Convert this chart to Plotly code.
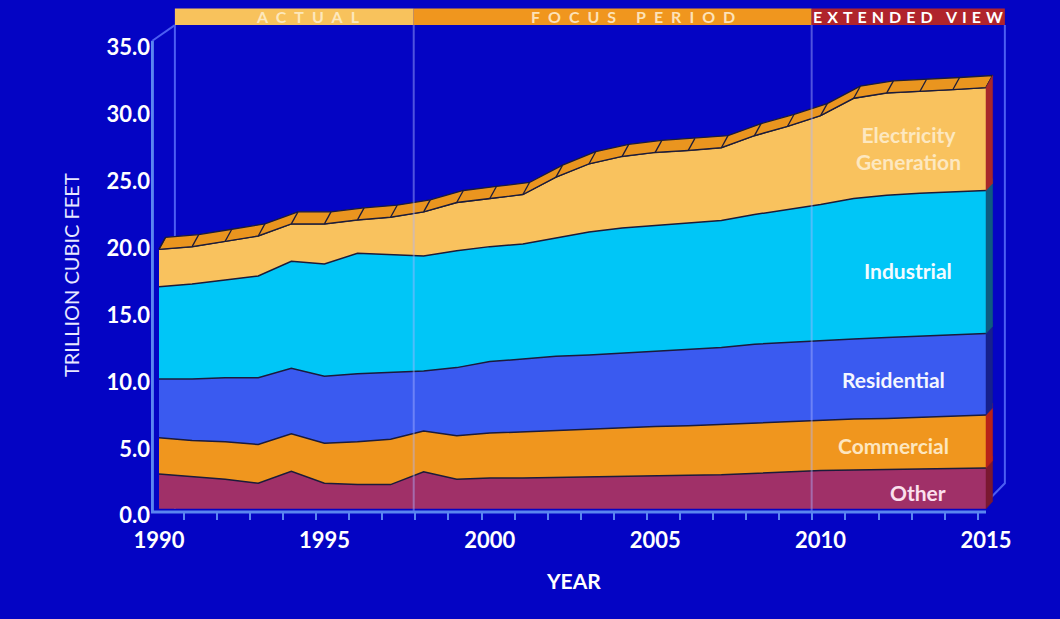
import plotly.graph_objects as go

# ---------------- data (trillion cubic feet) ----------------
years = list(range(1990, 2016))
other = [2.6, 2.4, 2.2, 1.9, 2.8, 1.9, 1.8, 1.8, 2.75, 2.2, 2.3, 2.3, 2.35, 2.4, 2.45, 2.47,
         2.5, 2.53, 2.65, 2.75, 2.85, 2.9, 2.95, 2.97, 3.0, 3.05]
commercial = [2.7, 2.7, 2.8, 2.9, 2.8, 3.0, 3.2, 3.4, 3.05, 3.25, 3.35, 3.45, 3.5, 3.55, 3.65, 3.68,
              3.7, 3.77, 3.8, 3.8, 3.8, 3.8, 3.8, 3.88, 3.9, 3.95]
residential = [4.4, 4.6, 4.8, 5.0, 4.9, 5.0, 5.1, 5.0, 4.5, 5.1, 5.35, 5.45, 5.55, 5.55, 5.55, 5.6,
               5.7, 5.75, 5.85, 5.9, 5.9, 6.0, 6.05, 6.05, 6.1, 6.1]
industrial = [6.9, 7.1, 7.3, 7.6, 8.0, 8.4, 9.0, 8.8, 8.6, 8.75, 8.6, 8.6, 8.85, 9.2, 9.35, 9.45,
              9.5, 9.5, 9.7, 9.9, 10.2, 10.5, 10.65, 10.7, 10.7, 10.7]
electricity = [2.8, 2.8, 2.9, 3.0, 2.8, 3.0, 2.5, 2.8, 3.3, 3.6, 3.6, 3.7, 4.55, 5.1, 5.35, 5.45,
               5.4, 5.45, 5.9, 6.25, 6.65, 7.5, 7.65, 7.6, 7.65, 7.7]

series_names = ["Other", "Commercial", "Residential", "Industrial", "Electricity Generation"]
series_values = [other, commercial, residential, industrial, electricity]

y_ticks = [0, 5, 10, 15, 20, 25, 30, 35]
y_ticktext = ["0.0", "5.0", "10.0", "15.0", "20.0", "25.0", "30.0", "35.0"]
x_ticks = [1990, 1995, 2000, 2005, 2010, 2015]
x_ticktext = ["1990", "1995", "2000", "2005", "2010", "2015"]

period_names = ["ACTUAL", "FOCUS PERIOD", "EXTENDED VIEW"]
period_bounds = [1990.48, 1997.7, 2009.73, 2015.57]

# ---------------- styles ----------------
BG = "#0404c4"
fills = ["#a03068", "#f0961e", "#3a5af0", "#00c6f7", "#f9c25e"]
side_fills = ["#7a1830", "#b82218", "#16208c", "#0e5a80", "#a8282a"]
label_colors = ["#fbe0ee", "#fde6bf", "#f4f6ff", "#f4fbff", "#fde8c0"]
BAND = "#ea951f"
EDGE = "#1b1b3a"
AXIS = "#5a86f0"
BACK = "#4c5ef2"
period_fills = ["#f8c25c", "#f0961e", "#b0242c"]
period_text = ["#fde8bc", "#fde2b8", "#ffffff"]
period_spacing = [8, 8, 5]
DX, DY = 0.2, 0.9          # pseudo-3D depth offset
FONT = "Lato"

X0 = 1989.758
X1 = X0 + 861 / 33.08
Y0, Y1 = -0.25, 37.45

fig = go.Figure()

# stacked areas
for name, vals, col in zip(series_names, series_values, fills):
    fig.add_trace(go.Scatter(
        x=years, y=vals, name=name, stackgroup="one", mode="lines",
        line=dict(color=EDGE, width=1.5), fillcolor=col, hoverinfo="skip"))

# cumulative tops
cum = []
run = [0.0] * len(years)
for vals in series_values:
    lo = run[:]
    run = [a + b for a, b in zip(run, vals)]
    cum.append((lo, run[:]))
totals = run

# top 3D band
bx = years + [y + DX for y in reversed(years)] + [years[0]]
by = totals + [t + DY for t in reversed(totals)] + [totals[0]]
fig.add_trace(go.Scatter(x=bx, y=by, mode="lines", fill="toself", fillcolor=BAND,
                         line=dict(color=EDGE, width=1.3), hoverinfo="skip"))
hx, hy = [], []
for y, t in zip(years, totals):
    hx += [y, y + DX, None]
    hy += [t, t + DY, None]
fig.add_trace(go.Scatter(x=hx, y=hy, mode="lines", line=dict(color=EDGE, width=1.3),
                         hoverinfo="skip"))

# right side faces
xl = years[-1]
for (lo, hi), col in zip(cum, side_fills):
    fig.add_trace(go.Scatter(
        x=[xl, xl, xl + DX, xl + DX, xl], y=[lo[-1], hi[-1], hi[-1] + DY, lo[-1] + DY * 0.6, lo[-1]],
        mode="lines", fill="toself", fillcolor=col, line=dict(color=col, width=0.5),
        hoverinfo="skip"))

# dummy trace for the minor-tick axis
fig.add_trace(go.Scatter(x=[years[0]], y=[None], xaxis="x2", yaxis="y", mode="lines",
                         showlegend=False, hoverinfo="skip"))

shapes = []
bar_lo, bar_hi = 36.17, 37.42
# period bar
for i in range(3):
    shapes.append(dict(type="rect", xref="x", yref="y", x0=period_bounds[i], x1=period_bounds[i + 1],
                       y0=bar_lo, y1=bar_hi, fillcolor=period_fills[i], line=dict(width=0), layer="above"))
# back plane edges (behind data)
shapes.append(dict(type="line", xref="x", yref="y", x0=period_bounds[0], x1=period_bounds[0],
                   y0=bar_lo, y1=0, line=dict(color=BACK, width=2), layer="below"))
shapes.append(dict(type="path", xref="x", yref="y",
                   path=f"M {period_bounds[3]},{bar_lo} L {period_bounds[3]},1.9 L {xl + 0.1},0.7",
                   line=dict(color=BACK, width=2), layer="below"))
# period divider lines (visible through data)
for xv in period_bounds[1:3]:
    shapes.append(dict(type="line", xref="x", yref="y", x0=xv, x1=xv, y0=bar_lo, y1=Y0,
                       line=dict(color="rgba(170,180,255,0.45)", width=2), layer="above"))
# y axis line + perspective diagonal
shapes.append(dict(type="line", xref="x", yref="y", x0=1989.8, x1=1989.8, y0=Y0, y1=35,
                   line=dict(color=AXIS, width=3), layer="above"))
shapes.append(dict(type="line", xref="x", yref="y", x0=1989.8, x1=period_bounds[0], y0=35, y1=bar_lo,
                   line=dict(color=BACK, width=2), layer="above"))
# x axis line
shapes.append(dict(type="line", xref="x", yref="paper", x0=X0, x1=xl, y0=0, y1=0,
                   line=dict(color=AXIS, width=3), layer="above"))

annotations = []
period_x = [1994.61, 2004.45, 2012.72]
for i, name in enumerate(period_names):
    annotations.append(dict(
        x=period_x[i], y=(bar_lo + bar_hi) / 2, xref="x", yref="y", showarrow=False,
        text=f'<span style="letter-spacing:{period_spacing[i]}px">{name}</span>',
        font=dict(family=FONT, size=16, color=period_text[i], weight="bold"),
        xanchor="center", yanchor="middle"))

label_pos = [(2012.95, 1.18), (2012.2, 4.74), (2012.2, 9.68), (2012.65, 17.85), (2012.65, 27.0)]
label_text = ["Other", "Commercial", "Residential", "Industrial", "Electricity<br>Generation"]
for (lx, ly), txt, col in zip(label_pos, label_text, label_colors):
    annotations.append(dict(x=lx, y=ly, xref="x", yref="y", text=txt, showarrow=False,
                            font=dict(family=FONT, size=21, color=col, weight="bold"),
                            xanchor="center", yanchor="middle"))

annotations.append(dict(x=2002.52, y=-0.135, xref="x", yref="paper", text="YEAR", showarrow=False,
                        font=dict(family=FONT, size=21, color="white", weight="bold"),
                        xanchor="center", yanchor="middle"))
annotations.append(dict(x=-0.093, y=0.47, xref="paper", yref="paper", text="TRILLION CUBIC FEET",
                        showarrow=False, textangle=-90,
                        font=dict(family=FONT, size=20, color="#e8e8ff"),
                        xanchor="center", yanchor="middle"))

fig.update_layout(
    width=1060, height=619,
    margin=dict(l=151, r=48, t=8, b=107),
    paper_bgcolor=BG, plot_bgcolor=BG,
    showlegend=False,
    shapes=shapes, annotations=annotations,
    xaxis=dict(range=[X0, X1], tickvals=x_ticks, ticktext=x_ticktext, ticks="",
               showgrid=False, zeroline=False, showline=False, ticklabelstandoff=13,
               tickfont=dict(family=FONT, size=22, color="white", weight="bold"), fixedrange=True),
    xaxis2=dict(range=[X0, X1], overlaying="x", anchor="y", side="bottom",
                tickvals=[y + 0.75 for y in years[:-1]], ticks="outside", ticklen=7, tickwidth=2,
                tickcolor=AXIS, showticklabels=False, showgrid=False, zeroline=False, showline=False),
    yaxis=dict(range=[Y0, Y1], tickvals=y_ticks, ticktext=y_ticktext, ticks="",
               showgrid=False, zeroline=False, showline=False, ticklabelshift=7, ticklabelstandoff=0,
               tickfont=dict(family=FONT, size=22, color="white", weight="bold"), fixedrange=True),
)

fig.write_html("out.html")
